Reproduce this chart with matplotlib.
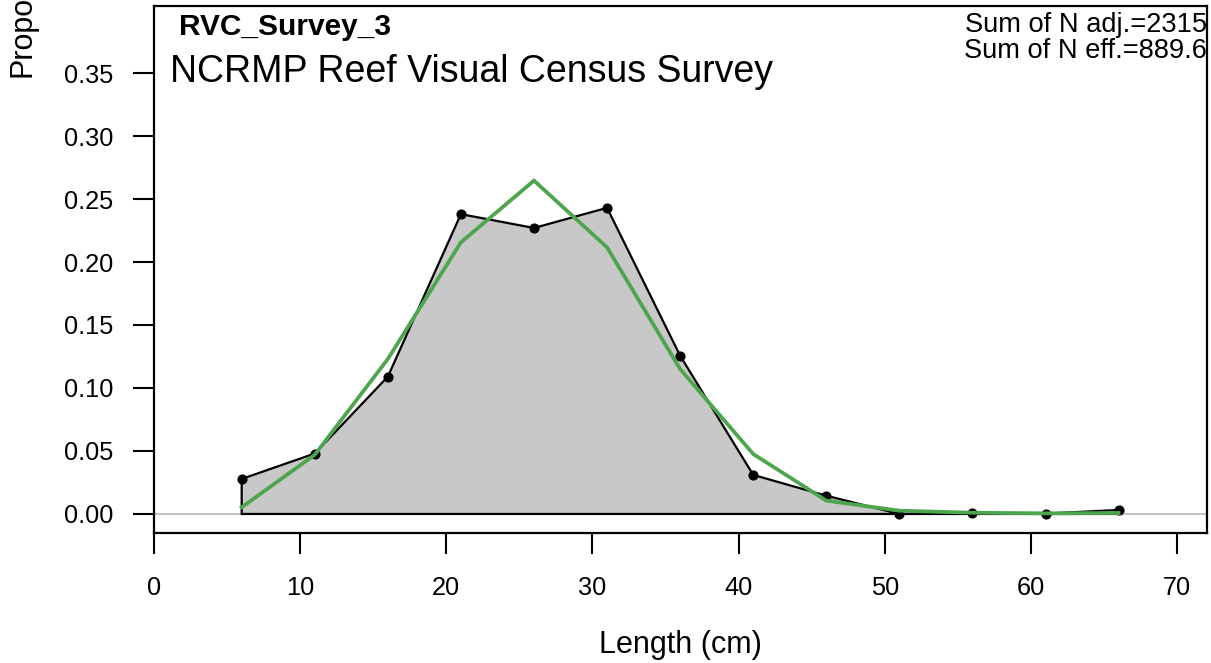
import matplotlib
matplotlib.use("Agg")
import matplotlib.pyplot as plt
import numpy as np

plt.rcParams['font.family'] = ['Liberation Sans', 'DejaVu Sans']

lengths = [6, 11, 16, 21, 26, 31, 36, 41, 46, 51, 56, 61, 66]
observed = [0.0278, 0.048, 0.109, 0.238, 0.227, 0.243, 0.1256, 0.031, 0.0145, 0.0, 0.0005, 0.0003, 0.0032]
expected = [0.0053, 0.047, 0.123, 0.2156, 0.2646, 0.2116, 0.115, 0.0476, 0.0106, 0.0026, 0.001, 0.0005, 0.0008]
x_ticks = [0, 10, 20, 30, 40, 50, 60, 70]
y_ticks = [0.00, 0.05, 0.10, 0.15, 0.20, 0.25, 0.30, 0.35]
fleet_label = "RVC_Survey_3"
fleet_name = "NCRMP Reef Visual Census Survey"
sum_texts = ["Sum of N adj.=2315", "Sum of N eff.=889.6"]

W, H = 1211, 663
fig = plt.figure(figsize=(W / 100, H / 100), dpi=100)

def fx(px):
    return px / W

def fy(py):
    return 1 - py / H

ax = fig.add_axes([fx(154), fy(533), fx(1207) - fx(154), fy(6) - fy(533)])
ax.set_xlim(0, 72.05)
ax.set_ylim(-0.0151, 0.4032)

ax.axhline(0, color='#BEBEBE', lw=1.3, zorder=1)
xs = [lengths[0]] + lengths + [lengths[-1]]
ys = [0] + observed + [0]
ax.fill(xs, ys, facecolor='#C8C8C8', edgecolor='black', lw=1.6, zorder=2)
ax.plot(lengths, observed, 'o', color='black', ms=6.3, zorder=3)
ax.plot(lengths, expected, color=(0.30, 0.65, 0.30), lw=2.7, zorder=4, solid_joinstyle='miter')

for s in ax.spines.values():
    s.set_linewidth(1.6)

ax.set_xticks(x_ticks)
ax.set_yticks(y_ticks)
ax.set_xticklabels([str(t) for t in x_ticks], fontsize=18.3)
ax.set_yticklabels([f"{t:.2f}" for t in y_ticks], fontsize=18.3)
ax.tick_params(axis='both', length=15, width=1.5, direction='out')
ax.tick_params(axis='x', pad=16)
ax.tick_params(axis='y', pad=14)

fig.text(fx(179), fy(35), fleet_label, fontsize=21.5, fontweight='bold', ha='left', va='baseline')
fig.text(fx(170), fy(81.5), fleet_name, fontsize=27, ha='left', va='baseline')
fig.text(fx(1207), fy(31.5), sum_texts[0], fontsize=19.6, ha='right', va='baseline')
fig.text(fx(1207), fy(58), sum_texts[1], fontsize=19.6, ha='right', va='baseline')

fig.text(fx(680), fy(653), "Length (cm)", fontsize=22, ha='center', va='baseline')
fig.text(fx(23), fy(77), "Proportion", fontsize=22, rotation=90, ha='center', va='bottom')

fig.savefig("out.png", dpi=100)
